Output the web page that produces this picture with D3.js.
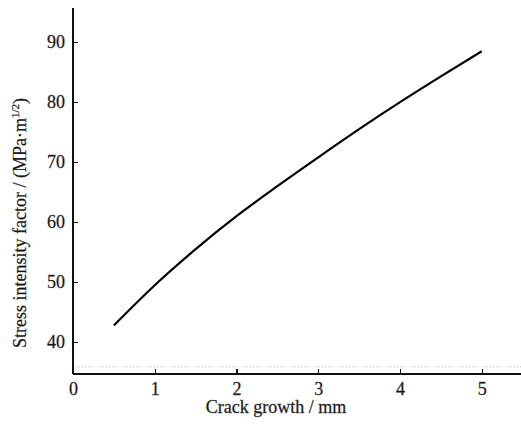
<!DOCTYPE html>
<html lang="en">
<head>
<meta charset="UTF-8">
<title>Stress intensity factor vs crack growth</title>
<script src="https://d3js.org/d3.v7.min.js"></script>
<style>
    body { margin: 0; background: #fff; }
    .axis path, .axis line { stroke: #111; stroke-width: 1.4; shape-rendering: crispEdges; }
    .axis text { font-family: "Liberation Serif", "DejaVu Serif", serif; font-size: 18px; fill: #111; stroke: #444; stroke-width: 0.3; }
    .label { font-family: "Liberation Serif", "DejaVu Serif", serif; font-size: 18px; fill: #111; stroke: #444; stroke-width: 0.3; }
</style>
</head>
<body>
<svg id="chart"></svg>
<script>
    // crack growth (mm) and stress intensity factor (MPa·m^1/2)
    const crackGrowth = [0.5, 1.0, 1.5, 2.0, 2.5, 3.0, 3.5, 4.0, 4.5, 5.0];
    const stressFactor = [42.8, 49.5, 55.5, 61.0, 66.0, 70.8, 75.5, 80.0, 84.3, 88.5];
    const xTicks = [0, 1, 2, 3, 4, 5];
    const yTicks = [40, 50, 60, 70, 80, 90];

    const width = 521, height = 425;
    const margin = { top: 8, right: 0, bottom: 51, left: 73 };

    const svg = d3.select("#chart")
        .attr("width", width)
        .attr("height", height);

    const x = d3.scaleLinear()
        .domain([0, 5.48])
        .range([margin.left, width - margin.right]);

    const y = d3.scaleLinear()
        .domain([34.7, 95.7])
        .range([height - margin.bottom, margin.top]);

    // faint scan line just above the x axis
    svg.append("line")
        .attr("x1", x(0)).attr("x2", width)
        .attr("y1", y(35.9)).attr("y2", y(35.9))
        .attr("stroke", "#bbb")
        .attr("stroke-dasharray", "1,2");

    const xAxis = svg.append("g")
        .attr("class", "axis")
        .attr("transform", `translate(0,${y(34.7)})`)
        .call(d3.axisBottom(x).tickValues(xTicks).tickSize(-5).tickPadding(8).tickFormat(d3.format("d")));
    xAxis.select(".domain").attr("d", `M${x(0)},0H${width}`);

    const yAxis = svg.append("g")
        .attr("class", "axis")
        .attr("transform", `translate(${x(0)},0)`)
        .call(d3.axisLeft(y).tickValues(yTicks).tickSize(-5).tickPadding(8).tickFormat(d3.format("d")));
    yAxis.select(".domain").attr("d", `M0,${y(95.7)}V${y(34.7)}`);

    const line = d3.line()
        .x((d, i) => x(crackGrowth[i]))
        .y(d => y(d))
        .curve(d3.curveMonotoneX);

    svg.append("path")
        .datum(stressFactor)
        .attr("d", line)
        .attr("fill", "none")
        .attr("stroke", "#000")
        .attr("stroke-width", 2.2);

    svg.append("text")
        .attr("class", "label")
        .attr("x", 276)
        .attr("y", 413)
        .attr("text-anchor", "middle")
        .text("Crack growth / mm");

    const yl = svg.append("text")
        .attr("class", "label")
        .attr("transform", "translate(26,223) rotate(-90)")
        .attr("text-anchor", "middle");
    yl.append("tspan").text("Stress intensity factor / (MPa·m");
    yl.append("tspan").attr("font-size", "11px").attr("dy", -7).text("1/2");
    yl.append("tspan").attr("dy", 7).text(")");
</script>
</body>
</html>
